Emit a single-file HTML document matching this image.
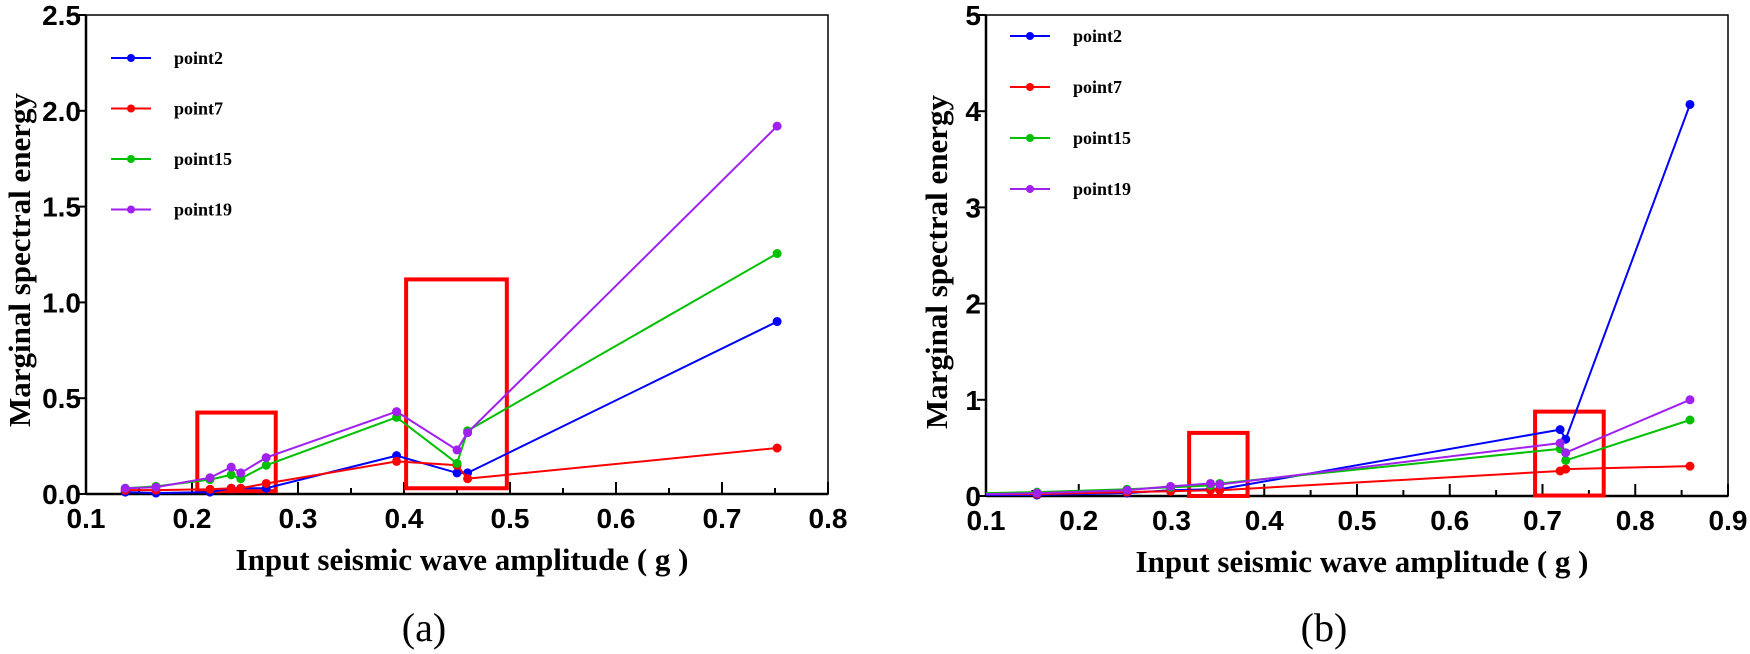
<!DOCTYPE html>
<html><head><meta charset="utf-8"><style>
body{margin:0;background:#fff;}
svg{display:block;}
</style></head><body>
<svg id="chart" width="1750" height="654" xmlns="http://www.w3.org/2000/svg"></svg>
<script>
// Panel (a)
const xA = [0.137, 0.166, 0.217, 0.237, 0.246, 0.270, 0.393, 0.450, 0.460, 0.752];
const a_point2  = [0.01, 0.005, 0.01, 0.03, 0.03, 0.03, 0.20, 0.11, 0.11, 0.90];
const a_point7  = [0.02, 0.02, 0.025, 0.03, 0.03, 0.055, 0.17, 0.15, 0.08, 0.24];
const a_point15 = [0.03, 0.04, 0.075, 0.10, 0.08, 0.15, 0.40, 0.16, 0.33, 1.255];
const a_point19 = [0.03, 0.035, 0.085, 0.14, 0.11, 0.19, 0.43, 0.23, 0.32, 1.92];
const a_xticks = [0.1, 0.2, 0.3, 0.4, 0.5, 0.6, 0.7, 0.8];
const a_yticks = [0.0, 0.5, 1.0, 1.5, 2.0, 2.5];
const a_boxes = [[0.205, 0.279, 0.015, 0.425], [0.402, 0.497, 0.03, 1.12]];
// Panel (b)
const xB = [0.1, 0.155, 0.252, 0.299, 0.342, 0.352, 0.719, 0.725, 0.859];
const b_point2  = [0.01, 0.01, 0.03, 0.06, 0.07, 0.07, 0.69, 0.59, 4.07];
const b_point7  = [0.02, 0.02, 0.04, 0.05, 0.06, 0.06, 0.26, 0.28, 0.31];
const b_point15 = [0.03, 0.04, 0.07, 0.09, 0.11, 0.13, 0.49, 0.37, 0.79];
const b_point19 = [0.02, 0.03, 0.06, 0.10, 0.13, 0.12, 0.55, 0.45, 1.00];
const b_xticks = [0.1, 0.2, 0.3, 0.4, 0.5, 0.6, 0.7, 0.8, 0.9];
const b_yticks = [0, 1, 2, 3, 4, 5];
const b_boxes = [[0.319, 0.382, 0.0, 0.656], [0.692, 0.766, 0.005, 0.877]];
const seriesNames = ['point2', 'point7', 'point15', 'point19'];
const colors = ['#0000ff', '#ff0000', '#00c000', '#a020f0'];

const svg = document.getElementById('chart');
const NS = 'http://www.w3.org/2000/svg';
function mk(tag, attrs, parent) {
  const e = document.createElementNS(NS, tag);
  for (const k in attrs) e.setAttribute(k, attrs[k]);
  (parent || svg).appendChild(e);
  return e;
}

function panel(cfg) {
  const g = mk('g', {});
  
  
  const {L, R, T, B, xmin, xmax, ymin, ymax} = cfg;
  const sx = v => L + (v - xmin) / (xmax - xmin) * (R - L);
  const sy = v => B - (v - ymin) / (ymax - ymin) * (B - T);
  const frame = mk('rect', {x: L, y: T, width: R - L, height: B - T, fill: 'none', stroke: '#000', 'stroke-width': 1.5}, g);
  
  
  mk('line', {x1: L, y1: T, x2: L, y2: B, stroke: '#000', 'stroke-width': 2.5}, g);
  mk('line', {x1: L, y1: B, x2: R, y2: B, stroke: '#000', 'stroke-width': 2.5}, g);
  const xstep = cfg.xticks[1] - cfg.xticks[0];
  cfg.xticks.forEach((v, i) => {
    const x = sx(v);
    mk('line', {x1: x, y1: B, x2: x, y2: B - 12, stroke: '#000', 'stroke-width': 2}, g);
    if (i < cfg.xticks.length - 1) {
      const xm = sx(v + xstep / 2);
      mk('line', {x1: xm, y1: B, x2: xm, y2: B - 6, stroke: '#000', 'stroke-width': 2}, g);
    }
    const t = mk('text', {x: x, y: B + 34, 'text-anchor': 'middle', 'font-family': 'Liberation Sans, sans-serif', 'font-weight': 'bold', 'font-size': 28}, g);
    t.textContent = cfg.xfmt(v);
    
    
  });
  cfg.yticks.forEach(v => {
    const y = sy(v);
    mk('line', {x1: L, y1: y, x2: L - 9, y2: y, stroke: '#000', 'stroke-width': 2}, g);
    const t = mk('text', {x: L - 5, y: y + 10, 'text-anchor': 'end', 'font-family': 'Liberation Sans, sans-serif', 'font-weight': 'bold', 'font-size': 28}, g);
    t.textContent = cfg.yfmt(v);
    
    
  });
  cfg.boxes.forEach(b => {
    const r = mk('rect', {x: sx(b[0]), y: sy(b[3]), width: sx(b[1]) - sx(b[0]), height: sy(b[2]) - sy(b[3]), fill: 'none', stroke: '#ff0000', 'stroke-width': 4}, g);
    
    
  });
  cfg.series.forEach((ys, si) => {
    const sg = mk('g', {}, g);
    
    
    const pts = ys.map((v, i) => sx(cfg.xs[i]) + ',' + sy(v)).join(' ');
    mk('polyline', {points: pts, fill: 'none', stroke: colors[si], 'stroke-width': 2}, sg);
    ys.forEach((v, i) => {
      if (cfg.skipFirstMarker && i === 0) return;
      const c = mk('circle', {cx: sx(cfg.xs[i]), cy: sy(v), r: 4.5, fill: colors[si]}, sg);
      
      
    });
  });
  seriesNames.forEach((n, i) => {
    const y = cfg.legY + i * cfg.legDy;
    const lg = mk('g', {}, g);
    
    
    mk('line', {x1: cfg.legX, y1: y, x2: cfg.legX + 40, y2: y, stroke: colors[i], 'stroke-width': 2}, lg);
    mk('circle', {cx: cfg.legX + 20, cy: y, r: 4, fill: colors[i]}, lg);
    const t = mk('text', {x: cfg.legX + 63, y: y + 6, 'font-family': 'Liberation Serif, serif', 'font-weight': 'bold', 'font-size': 18}, lg);
    t.textContent = n;
  });
  const xt = mk('text', {x: (L + R) / 2 + 5, y: B + 76, 'text-anchor': 'middle', 'font-family': 'Liberation Serif, serif', 'font-weight': 'bold', 'font-size': 31}, g);
  xt.textContent = 'Input seismic wave amplitude ( g )';
  
  
  const yt = mk('text', {x: 0, y: 0, 'text-anchor': 'middle', 'font-family': 'Liberation Serif, serif', 'font-weight': 'bold', 'font-size': 31, transform: 'translate(' + cfg.ytX + ',' + cfg.ytY + ') rotate(-90)'}, g);
  yt.textContent = 'Marginal spectral energy';
  
  
  const cap = mk('text', {x: L + 338, y: 641, 'text-anchor': 'middle', 'font-family': 'Liberation Serif, serif', 'font-size': 40}, g);
  cap.textContent = cfg.caption;
  
  
}

panel({name: 'panel-a', L: 86, R: 828, T: 15, B: 494, xmin: 0.1, xmax: 0.8, ymin: 0, ymax: 2.5,
  xs: xA, series: [a_point2, a_point7, a_point15, a_point19], xticks: a_xticks, yticks: a_yticks,
  xfmt: v => v.toFixed(1), yfmt: v => v.toFixed(1), boxes: a_boxes,
  legX: 111, legY: 58, legDy: 50.5, ytX: 30, ytY: 260, caption: '(a)', skipFirstMarker: false});
panel({name: 'panel-b', L: 986, R: 1728, T: 15, B: 496, xmin: 0.1, xmax: 0.9, ymin: 0, ymax: 5,
  xs: xB, series: [b_point2, b_point7, b_point15, b_point19], xticks: b_xticks, yticks: b_yticks,
  xfmt: v => v.toFixed(1), yfmt: v => String(v), boxes: b_boxes,
  legX: 1010, legY: 36, legDy: 51, ytX: 947, ytY: 262, caption: '(b)', skipFirstMarker: true});
</script>
</body></html>
